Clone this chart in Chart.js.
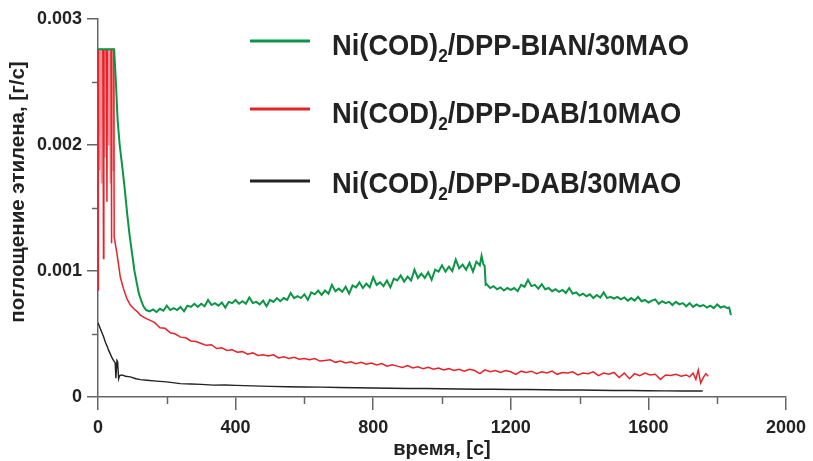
<!DOCTYPE html>
<html><head><meta charset="utf-8">
<script src="https://cdn.jsdelivr.net/npm/chart.js@4/dist/chart.umd.min.js"></script>
<style>html,body{margin:0;padding:0;background:#fff}#wrap{width:813px;height:461px;position:relative}</style>
</head><body><div id="wrap"><canvas id="c"></canvas></div>
<script>
const seriesLabels = ['Ni(COD)₂/DPP-BIAN/30MAO', 'Ni(COD)₂/DPP-DAB/10MAO', 'Ni(COD)₂/DPP-DAB/30MAO'];
const seriesColors = ['#0b9646', '#e8222b', '#222222'];
const xAxisTitle = 'время, [с]';
const yAxisTitle = 'поглощение этилена, [г/с]';

const xMajorTicks = [0, 400, 800, 1200, 1600, 2000];
const xMinorTicks = [200, 600, 1000, 1400, 1800];
const yMajorTicks = [0, 0.001, 0.002, 0.003];
const yMinorTicks = [0.0005, 0.0015, 0.0025];

const greenTime = [0,47,52,57,63,70,77,85,92,99,106,113,119,125,132,140,
150,160,170,180,190,200,210,220,230,240,250,260,270,280,290,300,310,320,330,340,350,360,370,380,390,
400,410,420,430,440,450,460,470,480,490,500,510,520,530,540,550,560,570,580,590,
600,610,620,630,640,650,660,670,680,690,700,710,720,730,740,750,760,770,780,790,
800,810,820,830,840,850,860,870,880,890,900,910,920,930,940,950,960,970,980,990,
1000,1010,1020,1030,1040,1050,1060,1070,1080,1090,1100,1110,1115,1120,1124,1127,1130,1140,1150,1160,1170,1180,1190,
1200,1210,1220,1230,1240,1250,1260,1270,1280,1290,1300,1310,1320,1330,1340,1350,1360,1370,1380,1390,
1400,1410,1420,1430,1440,1450,1460,1470,1480,1490,1500,1510,1520,1530,1540,1550,1560,1570,1580,1590,
1600,1610,1620,1630,1640,1650,1660,1670,1680,1690,1700,1710,1720,1730,1740,1750,1760,1770,1780,1790,
1800,1810,1820,1830,1835,1840];
const greenValue = [0.00276,0.00276,0.0025,0.0022,0.002,0.00184,0.00167,0.00145,0.00128,0.00114,0.001,0.0009,0.00082,0.00077,0.00072,0.00069,
0.00068,0.000695,0.000675,0.0007,0.000685,0.000725,0.00069,0.000705,0.00069,0.000715,0.00068,0.000725,0.000715,0.00074,0.000715,0.00074,0.00072,0.00077,0.00073,0.000745,0.000725,0.00075,0.00071,0.000755,0.000745,
0.00077,0.00074,0.00076,0.00074,0.00079,0.000745,0.000755,0.000735,0.000765,0.00072,0.00077,0.000755,0.000785,0.00076,0.000785,0.00077,0.000825,0.000785,0.0008,0.000785,
0.000815,0.00077,0.00083,0.000815,0.000845,0.00081,0.000845,0.00082,0.00089,0.00084,0.00086,0.000835,0.000875,0.00082,0.000885,0.00087,0.00091,0.000865,0.0009,0.00087,
0.00095,0.00089,0.00091,0.00088,0.000925,0.00087,0.00094,0.000925,0.000965,0.000915,0.000955,0.000925,0.00101,0.000945,0.00098,0.000945,0.00099,0.00093,0.00101,0.000995,
0.001045,0.000995,0.001035,0.001,0.00109,0.00102,0.00105,0.00101,0.001065,0.000995,0.001075,0.001045,0.00112,0.001055,0.00104,0.00089,0.000895,0.000865,0.00088,0.000855,0.00087,0.000845,0.000865,
0.00085,0.000865,0.00084,0.00089,0.000875,0.00093,0.00088,0.00089,0.00086,0.000895,0.000855,0.000865,0.00084,0.000855,0.000835,0.00085,0.000825,0.000865,0.00082,0.00083,
0.000805,0.00082,0.0008,0.000815,0.000785,0.00081,0.00079,0.00083,0.000785,0.000795,0.00078,0.000795,0.000775,0.00079,0.000765,0.000785,0.000765,0.000795,0.00076,0.00077,
0.00075,0.000765,0.000775,0.00074,0.00076,0.000745,0.000755,0.00073,0.000755,0.000735,0.000745,0.00072,0.000745,0.000715,0.000735,0.00072,0.00073,0.00071,0.000725,0.000705,
0.000735,0.00071,0.00072,0.000705,0.00071,0.00065];

const redTime = [0,1,3,4,5,7,8,10,11,14,16,17,20,21,24,26,27,30,31,34,36,37,38,39,40,43,44,45,46,47,55,65,74,84,94,104,113,123,135,142,
150,165,180,195,210,225,240,255,270,285,300,315,330,345,360,375,390,405,420,435,450,465,480,495,510,525,540,555,570,585,
600,615,630,645,660,675,690,705,720,735,750,765,780,795,810,825,840,855,870,885,900,915,930,945,960,975,990,
1005,1020,1035,1050,1065,1080,1095,1110,1125,1140,1155,1170,1185,1200,1215,1230,1245,1260,1275,1290,1305,1320,1335,1350,1365,1380,1395,
1410,1425,1440,1455,1470,1485,1500,1515,1530,1545,1560,1575,1590,1605,1620,1635,1650,1665,1680,1695,1710,1720,1730,1738,1745,1752,1760,1767,1774];
const redValue = [0.00085,0.00276,0.00276,0.0018,0.00276,0.0021,0.00276,0.0017,0.00276,0.00276,0.0011,0.00276,0.0019,0.00276,0.00276,0.00155,0.00276,0.002,0.00276,0.00276,0.0017,0.00276,0.00276,0.00122,0.00276,0.00276,0.0018,0.00276,0.00276,0.00127,0.00114,0.00095,0.00086,0.00078,0.00073,0.0007,0.00068,0.00065,0.00063,0.00062,
0.00061,0.00059,0.00055,0.000545,0.00051,0.0005,0.000475,0.00047,0.000445,0.00044,0.000425,0.00041,0.000415,0.000385,0.00039,0.00037,0.000375,0.000355,0.00036,0.00034,0.00035,0.00033,0.000335,0.000325,0.000335,0.00031,0.00032,0.000305,0.000315,0.0003,
0.000305,0.000295,0.000305,0.000285,0.00029,0.000295,0.000275,0.000285,0.00027,0.00028,0.000265,0.000275,0.00026,0.00027,0.000255,0.000265,0.000245,0.000255,0.000245,0.000235,0.00025,0.00023,0.00024,0.000225,0.000235,0.00022,0.00023,
0.000215,0.000225,0.00021,0.00022,0.000205,0.00022,0.00021,0.000185,0.000215,0.0002,0.00021,0.000195,0.00021,0.0002,0.00018,0.000205,0.000195,0.000205,0.000185,0.0002,0.00019,0.000205,0.00018,0.000195,0.00019,0.0002,0.000175,
0.00019,0.000185,0.0002,0.00017,0.00019,0.00018,0.000195,0.000155,0.00019,0.000145,0.000185,0.00017,0.00019,0.000175,0.00018,0.00014,0.000175,0.00017,0.00018,0.000165,0.000175,0.00016,0.00019,0.00014,0.000215,0.00011,0.000155,0.000185,0.000165];

const blackTime = [0,5,10,16,22,27,31,36,41,45,50,52,55,57,60,63,70,80,94,110,123,142,170,200,239,270,300,336,370,
400,450,500,550,600,650,700,750,800,850,900,950,1000,1050,1100,1150,1200,1250,1300,1350,1400,1450,1500,1550,1600,1650,1700,1758];
const blackValue = [0.00059,0.000555,0.00052,0.00048,0.00043,0.0004,0.00037,0.00034,0.00031,0.00029,0.00027,0.00015,0.00029,0.00028,0.000145,0.00017,0.000175,0.000165,0.00016,0.000145,0.000138,0.000133,0.000126,0.00012,0.000106,0.000103,0.0001,0.000094,0.000095,
0.000092,0.000088,0.000084,0.000081,0.000079,0.000078,0.000075,0.000073,0.000071,0.000069,0.000068,0.000067,0.000066,0.000064,0.000062,0.000061,0.000059,0.000059,0.000057,0.000056,0.000055,0.000053,0.000052,0.000051,0.00005,0.000049,0.000048,0.000048];

const axisColor = '#666666';
const textColor = '#222222';
const fontFamily = "'Liberation Sans', Arial, sans-serif";

function pairs(t, v) { return t.map((x, i) => ({ x: x, y: v[i] })); }

const minorTickPlugin = {
  id: 'minorTicks',
  afterDraw(chart) {
    const { ctx, chartArea: a, scales: { x, y } } = chart;
    ctx.save();
    ctx.strokeStyle = axisColor; ctx.lineWidth = 1.5;
    yMinorTicks.forEach(v => { const p = Math.round(y.getPixelForValue(v)) + 0.5; ctx.beginPath(); ctx.moveTo(a.left - 6, p); ctx.lineTo(a.left, p); ctx.stroke(); });
    xMinorTicks.forEach(v => { const p = Math.round(x.getPixelForValue(v)) + 0.5; ctx.beginPath(); ctx.moveTo(p, a.bottom); ctx.lineTo(p, a.bottom + 7); ctx.stroke(); });
    ctx.restore();
  }
};

const yTitlePlugin = {
  id: 'yTitle',
  afterDraw(chart) {
    const ctx = chart.ctx;
    ctx.save();
    ctx.translate(24, 192); ctx.rotate(-Math.PI / 2);
    ctx.fillStyle = textColor; ctx.textAlign = 'center'; ctx.textBaseline = 'alphabetic';
    ctx.font = "bold 20.5px " + fontFamily;
    ctx.fillText(yAxisTitle, 0, 0);
    ctx.restore();
  }
};

const legendRows = [{ ly: 41, by: 55 }, { ly: 109, by: 123 }, { ly: 181, by: 193 }];
const legendPlugin = {
  id: 'customLegend',
  afterDraw(chart) {
    const ctx = chart.ctx;
    chart.data.datasets.forEach((ds, i) => {
      const r = legendRows[i];
      ctx.save();
      ctx.strokeStyle = ds.borderColor; ctx.lineWidth = 3;
      ctx.beginPath(); ctx.moveTo(250, r.ly); ctx.lineTo(310, r.ly); ctx.stroke();
      ctx.translate(332, r.by); ctx.scale(0.91, 1);
      ctx.fillStyle = textColor; ctx.textBaseline = 'alphabetic'; ctx.textAlign = 'left';
      const parts = ds.label.split('₂');
      ctx.font = "bold 30px " + fontFamily;
      ctx.fillText(parts[0], 0, 0);
      let w = ctx.measureText(parts[0]).width;
      ctx.font = "bold 19px " + fontFamily;
      ctx.fillText('2', w, 6.5);
      w += ctx.measureText('2').width;
      ctx.font = "bold 30px " + fontFamily;
      ctx.fillText(parts[1], w, 0);
      ctx.restore();
    });
  }
};

const earlyRed = 'rgba(232,34,43,0.5)';
const datasets = [
  { label: seriesLabels[0], data: pairs(greenTime, greenValue), borderColor: seriesColors[0], borderWidth: 2 },
  { label: seriesLabels[1], data: pairs(redTime, redValue), borderColor: seriesColors[1], borderWidth: 1.5,
    segment: { borderColor: c => (c.p1.parsed.x <= 46 && Math.min(c.p0.parsed.y, c.p1.parsed.y) > 0.0016 ? earlyRed : undefined) } },
  { label: seriesLabels[2], data: pairs(blackTime, blackValue), borderColor: seriesColors[2], borderWidth: 1.4 }
].map(d => Object.assign(d, { pointRadius: 0, fill: false, tension: 0, backgroundColor: d.borderColor }));

new Chart(document.getElementById('c'), {
  type: 'line',
  data: { datasets: datasets },
  plugins: [minorTickPlugin, yTitlePlugin, legendPlugin],
  options: {
    responsive: true, maintainAspectRatio: false, animation: false,
    layout: { padding: { left: 0, top: 19, right: 27, bottom: 0 } },
    plugins: { legend: { display: false }, tooltip: { enabled: false } },
    scales: {
      x: {
        type: 'linear', min: 0, max: 2000,
        afterBuildTicks: s => { s.ticks = xMajorTicks.map(v => ({ value: v })); },
        afterFit: s => { s.height = 64; },
        grid: { drawOnChartArea: false, drawTicks: true, tickLength: 13, color: axisColor, lineWidth: 1.5 },
        border: { display: true, color: axisColor, width: 1.5 },
        ticks: { color: textColor, font: { family: fontFamily, size: 18, weight: 'bold' }, padding: 7, maxRotation: 0, autoSkip: false,
          callback: v => String(v) },
        title: { display: true, text: xAxisTitle, color: textColor, font: { family: fontFamily, size: 20, weight: 'bold' }, padding: { top: 0, bottom: 0 } }
      },
      y: {
        type: 'linear', min: 0, max: 0.003,
        afterBuildTicks: s => { s.ticks = yMajorTicks.map(v => ({ value: v })); },
        afterFit: s => { s.width = 98; },
        grid: { drawOnChartArea: false, drawTicks: true, tickLength: 11, color: axisColor, lineWidth: 1.5 },
        border: { display: true, color: axisColor, width: 1.5 },
        ticks: { color: textColor, font: { family: fontFamily, size: 18, weight: 'bold' }, padding: 5, autoSkip: false,
          callback: v => (v === 0 ? '0' : v.toFixed(3)) },
        title: { display: false }
      }
    }
  }
});
</script></body></html>
